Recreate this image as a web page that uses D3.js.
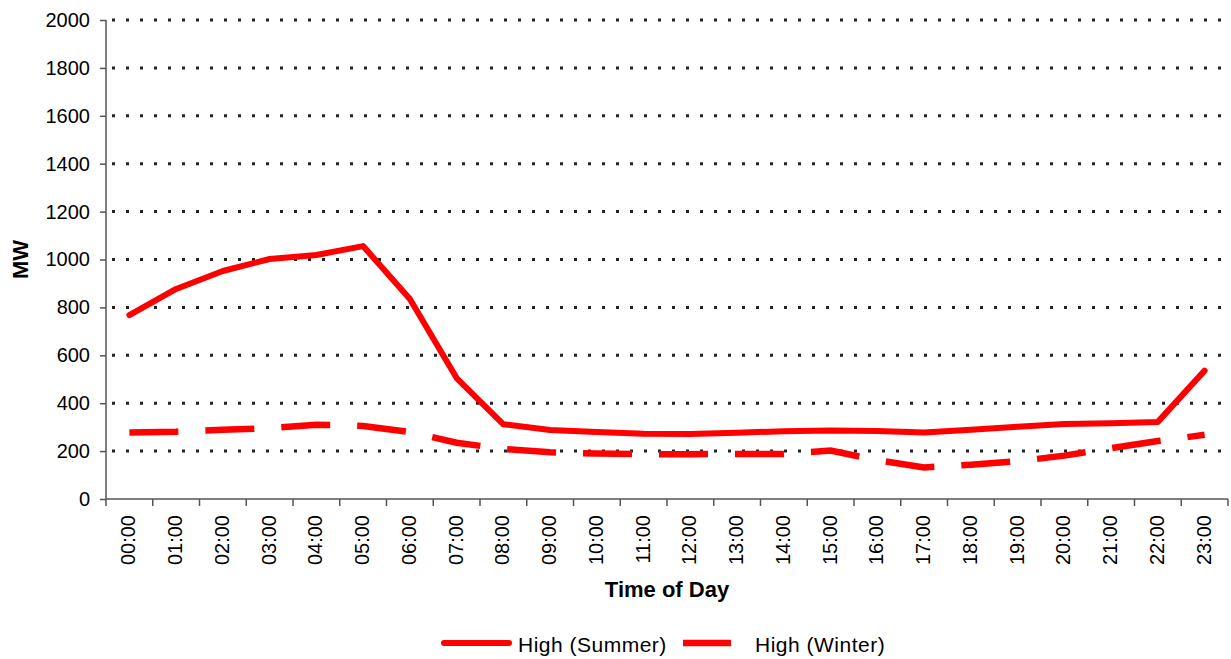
<!DOCTYPE html>
<html>
<head>
<meta charset="utf-8">
<script src="https://cdn.jsdelivr.net/npm/d3@7"></script>
<style>
  body { margin: 0; background: #fff; }
  text { font-family: "Liberation Sans", Arial, sans-serif; }
</style>
</head>
<body>
<div class="canvas"></div>
<script>
// data
const hours = ['00:00','01:00','02:00','03:00','04:00','05:00','06:00','07:00','08:00','09:00','10:00','11:00',
               '12:00','13:00','14:00','15:00','16:00','17:00','18:00','19:00','20:00','21:00','22:00','23:00'];
const summer = [768, 877, 952, 1002, 1019, 1056, 835, 505, 312, 288, 280, 272, 271, 277, 283, 286, 284, 278, 289, 302, 313, 316, 322, 536];
const winter = [278, 281, 289, 296, 310, 305, 280, 235, 209, 195, 190, 187, 187, 188, 188, 202, 162, 132, 143, 158, 181, 212, 242, 268];
const yTicks = [0, 200, 400, 600, 800, 1000, 1200, 1400, 1600, 1800, 2000];
const seriesNames = ['High (Summer)', 'High (Winter)'];

const width = 1231, height = 659;
const margin = {top: 20, right: 3, bottom: 160, left: 106};
const graphWidth = width - margin.left - margin.right;
const graphHeight = height - margin.top - margin.bottom;

const svg = d3.select('.canvas')
    .append('svg')
    .attr('width', width)
    .attr('height', height);

const graph = svg.append('g')
    .attr('transform', `translate(${margin.left}, ${margin.top})`);

// scales
const x = d3.scaleBand().domain(hours).range([0, graphWidth]);
const y = d3.scaleLinear().domain([0, 2000]).range([graphHeight, 0]);
const cx = d => x(d) + x.bandwidth() / 2;

// dotted gridlines
graph.append('g')
    .selectAll('line')
    .data(yTicks.filter(d => d > 0))
    .join('line')
    .attr('x1', 0)
    .attr('x2', graphWidth)
    .attr('y1', d => y(d))
    .attr('y2', d => y(d))
    .attr('stroke', '#222')
    .attr('stroke-width', 3)
    .attr('stroke-dasharray', '3,11')
    .attr('stroke-dashoffset', -6);

// axes
const yAxis = d3.axisLeft(y).tickValues(yTicks).tickSize(6).tickPadding(10).tickFormat(d3.format('d'));
const yAxisGroup = graph.append('g').call(yAxis);
yAxisGroup.select('.domain').attr('stroke', '#555').attr('stroke-width', 1.5).attr('d', `M0,0V${graphHeight}`);
yAxisGroup.selectAll('.tick line').attr('stroke', '#555').attr('stroke-width', 1.5);
yAxisGroup.selectAll('text').attr('font-size', 20).attr('fill', '#000')
    .attr('font-family', '"Liberation Sans", Arial, sans-serif');

const xAxisGroup = graph.append('g')
    .attr('transform', `translate(0, ${graphHeight})`);
xAxisGroup.append('line')
    .attr('x1', 0).attr('x2', graphWidth)
    .attr('stroke', '#555').attr('stroke-width', 1.5);
// tick marks between categories
xAxisGroup.selectAll('line.tk')
    .data(hours.concat(['end']))
    .join('line')
    .attr('class', 'tk')
    .attr('x1', (d, i) => i < hours.length ? x(d) : graphWidth)
    .attr('x2', (d, i) => i < hours.length ? x(d) : graphWidth)
    .attr('y1', 0).attr('y2', 7)
    .attr('stroke', '#555').attr('stroke-width', 1.5);
xAxisGroup.selectAll('text.lbl')
    .data(hours)
    .join('text')
    .attr('class', 'lbl')
    .attr('transform', d => `translate(${cx(d) + 6}, 16) rotate(-90)`)
    .attr('text-anchor', 'end')
    .attr('font-size', 20)
    .text(d => d);

// axis titles
svg.append('text')
    .attr('transform', `translate(28, ${margin.top + graphHeight / 2}) rotate(-90)`)
    .attr('text-anchor', 'middle')
    .attr('font-size', 22)
    .attr('font-weight', 'bold')
    .text('MW');

svg.append('text')
    .attr('x', 667)
    .attr('y', 597)
    .attr('text-anchor', 'middle')
    .attr('font-size', 22)
    .attr('font-weight', 'bold')
    .text('Time of Day');

// lines
const line = d3.line().x((d, i) => cx(hours[i])).y(d => y(d));

graph.append('path')
    .datum(summer)
    .attr('fill', 'none')
    .attr('stroke', '#ff0000')
    .attr('stroke-width', 6)
    .attr('stroke-linejoin', 'round')
    .attr('stroke-linecap', 'round')
    .attr('d', line);

graph.append('path')
    .datum(winter)
    .attr('fill', 'none')
    .attr('stroke', '#ff0000')
    .attr('stroke-width', 6.5)
    .attr('stroke-dasharray', '49,27')
    .attr('d', line);

// legend
const legend = svg.append('g');
legend.append('line')
    .attr('x1', 444).attr('x2', 509).attr('y1', 643).attr('y2', 643)
    .attr('stroke', '#ff0000').attr('stroke-width', 6).attr('stroke-linecap', 'round');
legend.append('text')
    .attr('x', 518).attr('y', 652)
    .attr('font-size', 21)
    .attr('letter-spacing', 0.5)
    .text(seriesNames[0]);
legend.append('line')
    .attr('x1', 683).attr('x2', 731).attr('y1', 643).attr('y2', 643)
    .attr('stroke', '#ff0000').attr('stroke-width', 6.5);
legend.append('text')
    .attr('x', 755).attr('y', 652)
    .attr('font-size', 21)
    .attr('letter-spacing', 0.5)
    .text(seriesNames[1]);
</script>
</body>
</html>
